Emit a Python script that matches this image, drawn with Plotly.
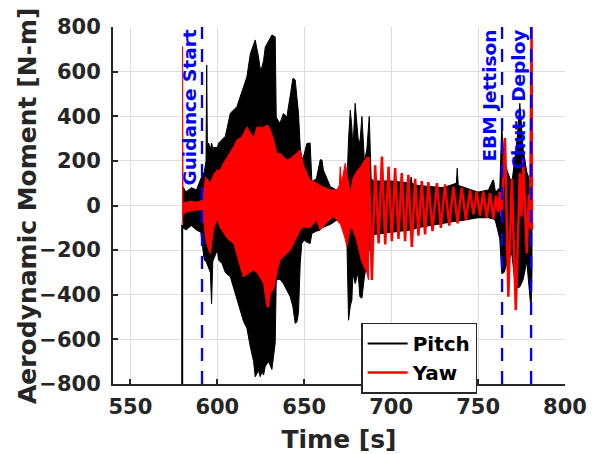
import plotly.graph_objects as go

# ---------------- data ----------------
# Pitch: first sample (saturated) at separation
pitch_start_t = [579.8, 579.8]
pitch_start_v = [-800, -87]

# Pitch envelope of the dense oscillation: time, upper, lower
pitch_env_t = [580.3, 582, 585, 588, 590.5, 592.5, 593.5, 593.9, 594.3, 595.0, 596.0, 596.7,
               597.4, 600.0, 600.8, 602.7, 604.6, 607.5, 609.4, 611.3, 613.2, 615.1, 617.0, 619.0,
               620.9, 621.8, 623.7, 624.7, 625.7, 626.6, 627.6, 629.5, 631.4, 633.3, 633.9, 636.0,
               638.0, 640.0, 642.0, 643.5, 644.8, 645.8, 646.7, 647.7, 648.6, 650.0, 651.5, 653.4,
               654.4, 657.0, 659.2, 660.2, 661.0, 665.0, 668.8, 670.7, 672.0, 674.5, 675.5, 676.5,
               677.4, 678.0, 679.3, 681.0, 682.0, 683.2, 684.6, 686.0, 687.4, 688.5, 690.0, 700.0,
               711.0, 711.5, 712.0, 715.0, 730.0, 737.5, 738.0, 738.6, 750.0, 756.0, 758.5, 758.9,
               760.0, 762.5, 763.6, 765.0, 767.0, 769.4, 771.0, 772.5, 774.0, 776.0, 778.0, 780.5,
               781.0]
pitch_env_hi = [84, 60, 80, 70, 120, 150, 200, 630, 250, 280, 250, 280,
                260, 260, 280, 295, 310, 414, 428, 443, 488, 532, 576, 680,
                725, 742, 666, 610, 621, 650, 710, 740, 764, 756, 396, 368,
                412, 397, 503, 570, 563, 473, 413, 263, 204, 230, 278, 280,
                108, 120, 205, 204, 159, 85, 70, 60, 60, 80, 300, 428,
                350, 250, 458, 300, 280, 399, 200, 250, 399, 120, 110, 110,
                100, 128, 100, 90, 80, 100, 167, 90, 60, 70, 114, 114,
                60, 80, 353, 200, 150, 100, 200, 300, 458, 250, 150, 100,
                0]
pitch_env_lo = [-100, -110, -90, -110, -120, -245, -250, -250, -260, -280, -300, -440,
                -250, -200, -245, -260, -300, -320, -380, -420, -470, -520, -549, -634,
                -700, -768, -740, -767, -745, -760, -720, -700, -735, -617, -334, -330,
                -350, -380, -410, -455, -528, -522, -480, -259, -170, -155, -165, -170,
                -125, -115, -110, -100, -96, -85, -65, -65, -70, -140, -514, -450,
                -424, -305, -350, -300, -409, -415, -320, -250, -200, -150, -130, -120,
                -110, -110, -110, -100, -80, -70, -60, -70, -55, -55, -60, -60,
                -70, -150, -305, -300, -250, -215, -330, -370, -365, -330, -250, -469,
                -300]

# Yaw envelope of the dense oscillation: time, upper, lower
yaw_env_t = [579.7, 580.0, 580.3, 582, 585, 588, 590.5, 592.0, 593.3, 595.0, 596.0, 598.0,
             599.8, 601.7, 603.6, 606.0, 609.4, 611.3, 614.2, 615.0, 617.0, 620.9, 622.8, 626.6,
             628.6, 629.5, 630.5, 632.4, 634.3, 636.0, 640.0, 642.0, 647.7, 649.6, 653.4, 657.2,
             659.2, 665.0, 666.7, 668.8, 670.2, 670.7, 671.5, 673.6, 674.5, 676.5, 678.0, 680.0,
             683.0, 686.0, 687.0]
yaw_env_hi = [712, 712, 10, 15, 20, 15, 20, 60, 128, 110, 100, 140,
              159, 159, 190, 220, 263, 294, 307, 320, 352, 302, 352, 350,
              361, 355, 339, 294, 234, 234, 204, 210, 249, 180, 114, 100,
              90, 70, 70, 70, 90, 173, 100, 190, 150, 53, 120, 150,
              180, 218, 200]
yaw_env_lo = [-87, -87, -40, -30, -25, -20, -20, -60, -150, -200, -215, -100,
              -60, -100, -125, -150, -170, -215, -300, -320, -310, -289, -300, -349,
              -455, -455, -395, -373, -300, -245, -215, -200, -110, -96, -100, -65,
              -110, -60, -50, -65, -80, -80, -100, -150, -186, -100, -110, -150,
              -250, -300, -334]

# Yaw: individual peaks and troughs after the dense phase
yaw_osc_t = [687.0, 688.9, 690.8, 692.8, 694.7, 696.6, 698.5, 700.4, 702.3, 704.2, 706.1, 708.0,
             709.9, 711.9, 713.8, 715.7, 717.6, 719.5, 721.4, 723.8, 726.3, 728.6, 731.0, 733.4,
             735.8, 738.2, 740.6, 743.0, 745.4, 747.3, 749.2, 751.1, 753.0, 755.0, 756.9, 758.8,
             760.3, 761.5, 762.5, 763.5, 765.5, 767.4, 769.4, 771.7, 774.0, 775.0, 776.0, 778.0,
             779.2, 779.9, 780.8, 781.0]
yaw_osc_v = [218, -334, 180, -170, 219, -175, 174, -160, 168, -150, 145, -160,
             137, -186, 120, -135, 110, -130, 105, -115, 100, -100, 95, -90,
             85, -80, 80, -65, 70, -40, 62, -45, 62, -55, 55, -60,
             44, -30, 60, -50, 302, -409, 120, -469, 146, -50, 204, -215,
             50, -100, 800, -110]

# Events
event_times = [591.2, 763.8, 780.5]
event_labels = ["Guidance Start", "EBM Jettison", "Chute Deploy"]

x_ticks = [550, 600, 650, 700, 750, 800]
y_ticks = [-800, -600, -400, -200, 0, 200, 400, 600, 800]

# ---------------- figure ----------------
AX = "#262626"
FONT = "DejaVu Sans"

fig = go.Figure()

# Pitch dense envelope (filled)
fig.add_trace(go.Scatter(
    x=pitch_env_t + pitch_env_t[::-1],
    y=pitch_env_hi + pitch_env_lo[::-1],
    mode="lines", fill="toself", fillcolor="black",
    line=dict(color="black", width=1), showlegend=False, hoverinfo="skip"))
# Pitch first sample (legend entry)
fig.add_trace(go.Scatter(
    x=pitch_start_t, y=pitch_start_v, mode="lines", name="Pitch",
    line=dict(color="black", width=2)))
# Yaw dense envelope (filled)
fig.add_trace(go.Scatter(
    x=yaw_env_t + yaw_env_t[::-1],
    y=yaw_env_hi + yaw_env_lo[::-1],
    mode="lines", fill="toself", fillcolor="red",
    line=dict(color="red", width=1), showlegend=False, hoverinfo="skip"))
# Yaw oscillation (legend entry)
fig.add_trace(go.Scatter(
    x=yaw_osc_t, y=yaw_osc_v, mode="lines", name="Yaw",
    line=dict(color="red", width=2.5)))

for t, lab in zip(event_times, event_labels):
    fig.add_shape(type="line", x0=t, x1=t, y0=-800, y1=800, xref="x", yref="y",
                  line=dict(color="blue", width=2.3, dash="13px,10px"))
    fig.add_annotation(x=t, y=800, xref="x", yref="y", text=lab, showarrow=False,
                       textangle=-90, xanchor="right", yanchor="top", xshift=-1, yshift=-1,
                       font=dict(family=FONT, size=18.5, color="blue", weight="bold"))

# y-axis title placed as a rotated text at the reference position
fig.add_annotation(x=-0.189, y=0.5, xref="paper", yref="paper",
                   text="Aerodynamic Moment [N-m]", showarrow=False, textangle=-90,
                   xanchor="center", yanchor="middle",
                   font=dict(family=FONT, size=25, color=AX, weight="bold"))

fig.update_layout(
    width=595, height=454,
    margin=dict(l=113, r=30, t=27, b=70),
    plot_bgcolor="white", paper_bgcolor="white",
    font=dict(family=FONT, color=AX),
    legend=dict(x=0.549, y=0.172, xanchor="left", yanchor="top",
                bgcolor="white", bordercolor=AX, borderwidth=1.5,
                font=dict(family=FONT, size=20, color="black", weight="bold"),
                tracegroupgap=0, itemwidth=40, entrywidth=62),
)
fig.update_xaxes(
    range=[540, 800], tickvals=x_ticks, ticks="inside", ticklen=5, tickwidth=1.5,
    tickcolor=AX, showline=True, linecolor=AX, linewidth=2, mirror=False,
    showgrid=True, gridcolor="#dedede", gridwidth=1, zeroline=False, automargin=False,
    ticklabelstandoff=3,
    tickfont=dict(family=FONT, size=21, color=AX, weight="bold"),
    title=dict(text="Time [s]", font=dict(family=FONT, size=25, color=AX, weight="bold")))
fig.update_yaxes(
    range=[-800, 800], tickvals=y_ticks, ticks="inside", ticklen=5, tickwidth=1.5,
    tickcolor=AX, showline=True, linecolor=AX, linewidth=2, mirror=False,
    showgrid=True, gridcolor="#dedede", gridwidth=1, zeroline=False, automargin=False,
    ticklabelstandoff=6,
    tickfont=dict(family=FONT, size=21, color=AX, weight="bold"))

fig.write_html("out.html", config={"displayModeBar": False},
               post_script="document.body.style.margin='0';document.body.style.overflow='hidden';")
